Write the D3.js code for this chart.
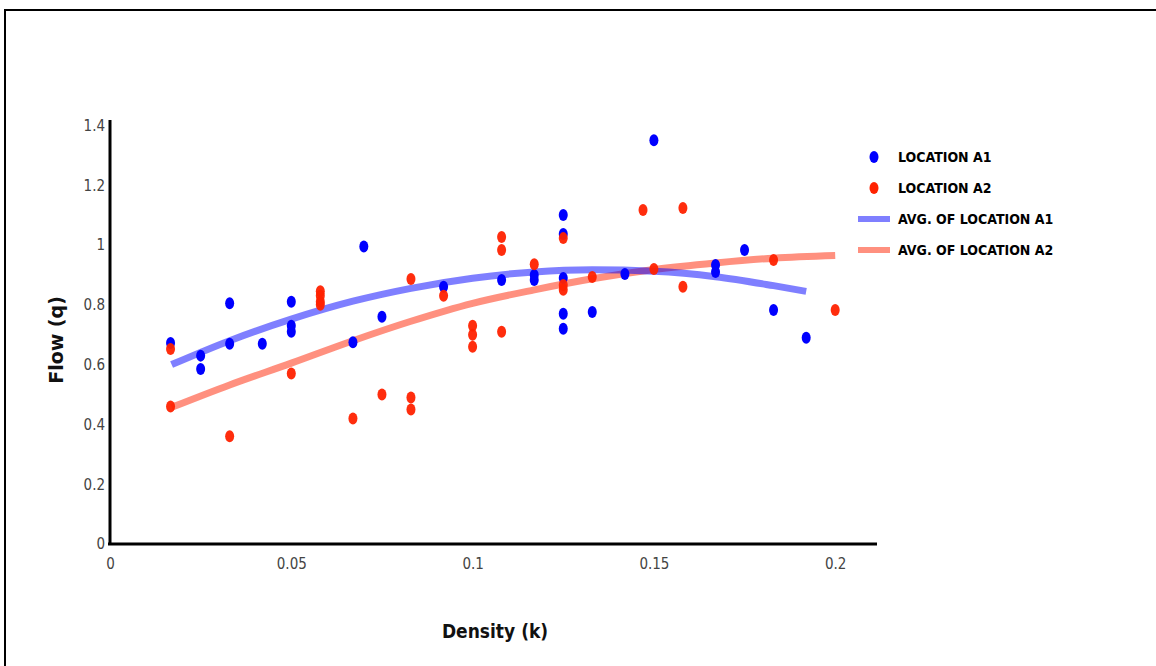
<!DOCTYPE html>
<html>
<head>
<meta charset="utf-8">
<script src="https://cdn.jsdelivr.net/npm/d3@7"></script>
<style>
  body { margin: 0; background: #fff; }
  .tick text { font-family: "Liberation Sans Narrow", "DejaVu Sans Condensed", sans-serif; font-size: 15px; fill: #444; }
  .legend text { font-family: "Liberation Sans Narrow", "DejaVu Sans Condensed", sans-serif; font-weight: bold; font-size: 14px; fill: #000; }
</style>
</head>
<body>
<div id="chart"></div>
<script>
// scatter points: density k, flow q
var a1K = [0.0167, 0.025, 0.025, 0.033, 0.033, 0.042, 0.05, 0.05, 0.05, 0.067, 0.07, 0.075, 0.092, 0.108, 0.117, 0.117, 0.125, 0.125, 0.125, 0.125, 0.125, 0.133, 0.142, 0.15, 0.167, 0.167, 0.175, 0.183, 0.192];
var a1Q = [0.672, 0.63, 0.585, 0.805, 0.67, 0.67, 0.81, 0.73, 0.71, 0.675, 0.995, 0.76, 0.86, 0.883, 0.90, 0.883, 1.10, 1.037, 0.89, 0.77, 0.72, 0.776, 0.903, 1.35, 0.933, 0.91, 0.983, 0.783, 0.69];

var a2K = [0.0167, 0.0167, 0.033, 0.05, 0.058, 0.058, 0.058, 0.058, 0.067, 0.075, 0.083, 0.083, 0.083, 0.092, 0.1, 0.1, 0.1, 0.108, 0.108, 0.108, 0.117, 0.125, 0.125, 0.125, 0.133, 0.147, 0.15, 0.158, 0.158, 0.183, 0.2];
var a2Q = [0.652, 0.46, 0.36, 0.57, 0.845, 0.83, 0.81, 0.80, 0.42, 0.50, 0.886, 0.49, 0.45, 0.83, 0.73, 0.70, 0.66, 1.027, 0.983, 0.71, 0.936, 1.023, 0.866, 0.85, 0.893, 1.117, 0.92, 1.124, 0.86, 0.95, 0.783];

// trend lines
var avgK1 = [0.017, 0.033, 0.05, 0.067, 0.083, 0.1, 0.117, 0.133, 0.15, 0.167, 0.183, 0.192];
var avgQ1 = [0.600, 0.680, 0.752, 0.812, 0.855, 0.889, 0.910, 0.917, 0.912, 0.894, 0.864, 0.845];
var avgK2 = [0.017, 0.033, 0.05, 0.067, 0.083, 0.1, 0.117, 0.133, 0.15, 0.167, 0.183, 0.2];
var avgQ2 = [0.457, 0.532, 0.605, 0.68, 0.745, 0.805, 0.85, 0.887, 0.918, 0.94, 0.956, 0.965];

var xTicks = [0, 0.05, 0.1, 0.15, 0.2];
var xTickLabels = ["0", "0.05", "0.1", "0.15", "0.2"];
var yTicks = [0, 0.2, 0.4, 0.6, 0.8, 1, 1.2, 1.4];
var yTickLabels = ["0", "0.2", "0.4", "0.6", "0.8", "1", "1.2", "1.4"];

var seriesNames = ["LOCATION A1", "LOCATION A2", "AVG. OF LOCATION A1", "AVG. OF LOCATION A2"];
var blue = "#0000ff", red = "#ff2200";

var width = 1156, height = 666;
var margin = {top: 120, left: 110};
var plotW = 767, plotH = 424;

var svg = d3.select("#chart").append("svg")
    .attr("width", width)
    .attr("height", height);

// frame around the figure
svg.append("path")
    .attr("d", "M5,666 L5,10 L1156,10")
    .attr("fill", "none")
    .attr("stroke", "#000")
    .attr("stroke-width", 2);

var xScale = d3.scaleLinear().domain([0, plotW / 3626]).range([0, plotW]);
var yScale = d3.scaleLinear().domain([0, plotH / 299]).range([plotH, 0]);

var g = svg.append("g")
    .attr("transform", "translate(" + margin.left + "," + margin.top + ")");

var xAxis = d3.axisBottom(xScale)
    .tickValues(xTicks)
    .tickFormat(function(d, i) { return xTickLabels[i]; })
    .tickSize(0)
    .tickPadding(14);

var yAxis = d3.axisLeft(yScale)
    .tickValues(yTicks)
    .tickFormat(function(d, i) { return yTickLabels[i]; })
    .tickSize(0)
    .tickPadding(5);

var gx = g.append("g").attr("transform", "translate(0," + plotH + ")").call(xAxis);
var gy = g.append("g").call(yAxis);
gx.select(".domain").attr("stroke", "#000").attr("stroke-width", 3).attr("d", "M-2,0H" + plotW);
gy.select(".domain").attr("stroke", "#000").attr("stroke-width", 3).attr("d", "M0,0V" + (plotH + 1));

// trend lines
var line = d3.line()
    .x(function(d) { return xScale(d[0]); })
    .y(function(d) { return yScale(d[1]); })
    .curve(d3.curveMonotoneX);

g.append("path")
    .datum(avgK2.map(function(k, i) { return [k, avgQ2[i]]; }))
    .attr("d", line)
    .attr("fill", "none")
    .attr("stroke", red)
    .attr("stroke-opacity", 0.5)
    .attr("stroke-width", 7);

g.append("path")
    .datum(avgK1.map(function(k, i) { return [k, avgQ1[i]]; }))
    .attr("d", line)
    .attr("fill", "none")
    .attr("stroke", blue)
    .attr("stroke-opacity", 0.5)
    .attr("stroke-width", 7);

// points
g.selectAll(".pa1")
    .data(a1K.map(function(k, i) { return [k, a1Q[i]]; }))
    .enter().append("ellipse")
    .attr("class", "pa1")
    .attr("cx", function(d) { return xScale(d[0]); })
    .attr("cy", function(d) { return yScale(d[1]); })
    .attr("rx", 4.5).attr("ry", 6)
    .attr("fill", blue);

g.selectAll(".pa2")
    .data(a2K.map(function(k, i) { return [k, a2Q[i]]; }))
    .enter().append("ellipse")
    .attr("class", "pa2")
    .attr("cx", function(d) { return xScale(d[0]); })
    .attr("cy", function(d) { return yScale(d[1]); })
    .attr("rx", 4.5).attr("ry", 6)
    .attr("fill", red)
    .attr("fill-opacity", 0.95);

// axis titles
svg.append("text")
    .attr("transform", "translate(63,340) rotate(-90)")
    .attr("text-anchor", "middle")
    .style("font-family", "'DejaVu Sans', sans-serif")
    .style("font-weight", "bold")
    .style("font-size", "19px")
    .style("fill", "#111")
    .text("Flow (q)");

svg.append("text")
    .attr("x", 495)
    .attr("y", 638)
    .attr("text-anchor", "middle")
    .style("font-family", "'Liberation Sans Narrow', 'DejaVu Sans Condensed', sans-serif")
    .style("font-weight", "bold")
    .style("font-size", "19px")
    .style("fill", "#111")
    .text("Density (k)");

// legend
var legend = svg.append("g").attr("class", "legend");
var legendY = [157, 188, 219, 250];
seriesNames.forEach(function(name, i) {
  var col = (i % 2 === 0) ? blue : red;
  if (i < 2) {
    legend.append("ellipse")
      .attr("cx", 874).attr("cy", legendY[i])
      .attr("rx", 4.5).attr("ry", 6)
      .attr("fill", col);
  } else {
    legend.append("line")
      .attr("x1", 858).attr("x2", 890)
      .attr("y1", legendY[i]).attr("y2", legendY[i])
      .attr("stroke", col)
      .attr("stroke-opacity", 0.5)
      .attr("stroke-width", 6);
  }
  legend.append("text")
    .attr("x", 898)
    .attr("y", legendY[i] + 5)
    .text(name);
});
</script>
</body>
</html>
